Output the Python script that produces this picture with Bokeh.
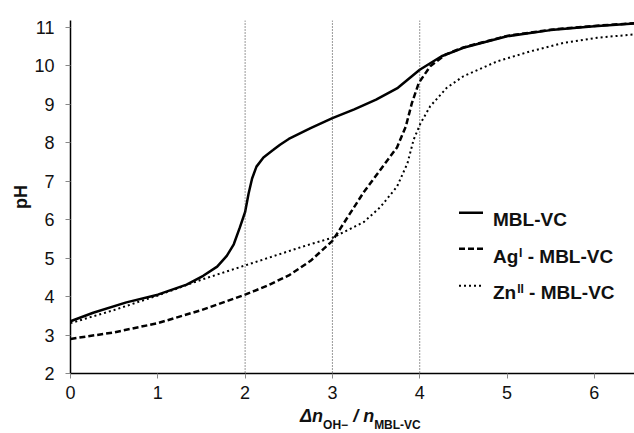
from bokeh.plotting import figure
from bokeh.models import Span, Label, Arrow, FixedTicker, Range1d, Div
from bokeh.layouts import column
from bokeh.embed import file_html
from bokeh.resources import INLINE

# ---- data ----
x_mbl = [0, 0.26, 0.64, 1.0, 1.14, 1.33, 1.52, 1.68, 1.79, 1.87, 1.94, 2.0, 2.04, 2.08,
         2.13, 2.21, 2.32, 2.4, 2.5, 2.75, 3.0, 3.25, 3.5, 3.75, 4.0, 4.25, 4.5, 5.0,
         5.5, 6.0, 6.46]
ph_mbl = [3.36, 3.58, 3.85, 4.05, 4.16, 4.31, 4.54, 4.78, 5.06, 5.36, 5.80, 6.20, 6.68, 7.07,
          7.38, 7.62, 7.81, 7.95, 8.10, 8.38, 8.64, 8.87, 9.12, 9.43, 9.90, 10.25, 10.47, 10.77,
          10.93, 11.03, 11.10]

x_ag = [0, 0.5, 1.0, 1.5, 2.0, 2.25, 2.5, 2.75, 3.0, 3.17, 3.36, 3.55, 3.74, 3.84, 3.91, 3.99,
        4.12, 4.3, 4.5, 5.0, 5.5, 6.0, 6.46]
ph_ag = [2.90, 3.07, 3.31, 3.65, 4.05, 4.28, 4.55, 4.93, 5.45, 6.05, 6.72, 7.30, 7.88, 8.42,
         9.03, 9.56, 9.99, 10.30, 10.48, 10.78, 10.94, 11.04, 11.11]

x_zn = [0, 0.5, 1.0, 1.5, 2.0, 2.7, 3.0, 3.36, 3.55, 3.74, 3.86, 3.93, 4.01, 4.12, 4.31,
        4.5, 4.89, 5.27, 5.65, 6.03, 6.46]
ph_zn = [3.31, 3.65, 4.03, 4.44, 4.81, 5.33, 5.53, 5.94, 6.33, 6.86, 7.47, 8.08, 8.51, 8.95, 9.43,
         9.73, 10.12, 10.38, 10.60, 10.73, 10.82]

x_ticks = [0, 1, 2, 3, 4, 5, 6]
y_ticks = [2, 3, 4, 5, 6, 7, 8, 9, 10, 11]
ref_lines = [2, 3, 4]

FONT = "Liberation Sans"

p = figure(width=634, height=406, output_backend="svg", toolbar_location=None,
           x_range=Range1d(0, 6.46), y_range=Range1d(2, 11.18),
           min_border_left=70, min_border_right=0, min_border_top=20, min_border_bottom=33,
           margin=(0, 0, 0, 0))
p.outline_line_color = None
p.grid.visible = False

for ax in (p.xaxis[0], p.yaxis[0]):
    ax.major_label_text_font = FONT
    ax.major_label_text_font_size = "18px"
    ax.major_label_text_color = "#111111"
    ax.axis_line_color = "black"
    ax.axis_line_width = 1.5
    ax.major_tick_line_color = "#888888"
    ax.major_tick_out = 5
    ax.major_tick_in = 0
    ax.minor_tick_line_color = None

p.xaxis.ticker = FixedTicker(ticks=x_ticks)
p.yaxis.ticker = FixedTicker(ticks=y_ticks)
p.xaxis.major_label_standoff = 7
p.yaxis.major_label_standoff = 11
p.yaxis.axis_label = "pH"
p.yaxis.axis_label_text_font = FONT
p.yaxis.axis_label_text_font_style = "bold"
p.yaxis.axis_label_text_font_size = "18px"
p.yaxis.axis_label_standoff = 0
p.yaxis.axis_label_text_color = "#111111"

for loc in ref_lines:
    p.add_layout(Span(location=loc, dimension="height", line_color="#333333",
                      line_width=1, line_dash="1 2"))

p.line(x_zn, ph_zn, line_color="black", line_width=2, line_dash="2 3")
p.line(x_ag, ph_ag, line_color="black", line_width=2.5, line_dash="6 3")
p.line(x_mbl, ph_mbl, line_color="black", line_width=2.5)

def lab(x, y, text, size, style="bold", baseline="alphabetic"):
    p.add_layout(Label(x=x, y=y, x_units="screen", y_units="screen", text=text,
                       text_font=FONT, text_font_size=size, text_font_style=style,
                       text_color="#111111", text_baseline=baseline, text_align="left"))

# legend samples
leg_rows = [(160.7, 2.5, None), (124.7, 2.5, "6 3"), (87.7, 2, "2 3")]
for yy, lw, dash in leg_rows:
    a = Arrow(end=None, x_start=388.5, y_start=yy, x_end=412.5, y_end=yy,
              start_units="screen", end_units="screen", line_color="black",
              line_width=lw)
    if dash:
        a.line_dash = dash
    p.add_layout(a)

lab(422.5, 153.7, "MBL-VC", "19px")
lab(422.5, 117.0, "Ag", "19px")
lab(448.6, 121.0, "I", "12px")
lab(457.2, 117.0, "- MBL-VC", "19px")
lab(422.5, 81.0, "Zn", "19px")
lab(446.7, 85.0, "II", "12px")
lab(458.6, 81.0, "- MBL-VC", "19px")

# x-axis title with subscripts (real HTML text under the figure)
title_html = (
    "<div style=\"padding-left:300px; white-space:nowrap; font-family:'Liberation Sans';"
    " font-weight:bold; font-size:18px; line-height:20px; color:#111111;\">"
    "<i>&Delta;n</i><span style=\"font-size:12px; position:relative; top:7px;\">OH&minus;</span>"
    " <i>/ n</i><span style=\"font-size:12px; position:relative; top:7px;\">MBL-VC</span>"
    "</div>"
)
div = Div(text=title_html, width=634, height=27, margin=(0, 0, 0, 0))

layout = column(p, div, spacing=0)
open("out.html", "w").write(file_html(layout, INLINE))
